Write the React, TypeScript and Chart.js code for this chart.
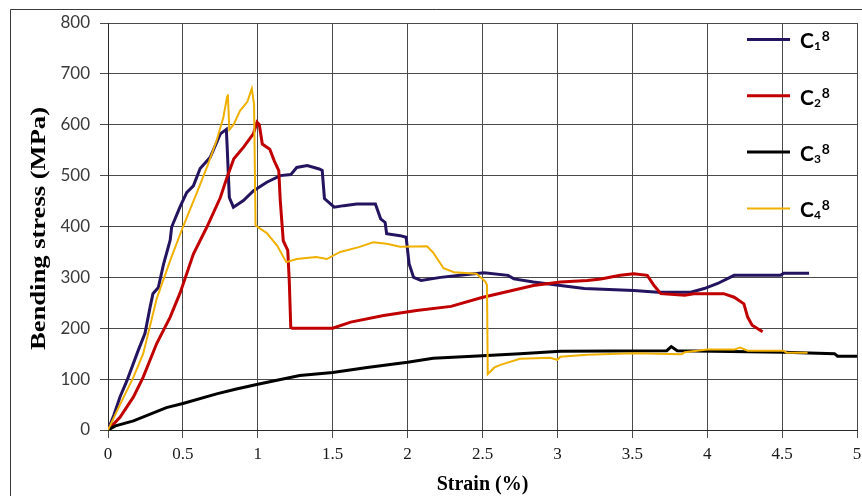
import React, { useEffect, useRef } from "react";
import { Chart, registerables } from "chart.js";

Chart.register(...registerables);

// ---- Data (strain %, bending stress MPa) ----
const c1Strain = [0, 0.04, 0.08, 0.125, 0.2, 0.247, 0.28, 0.3, 0.336, 0.37, 0.415, 0.425, 0.48, 0.526, 0.57, 0.615, 0.682, 0.75, 0.79, 0.795, 0.81, 0.837, 0.904, 0.97, 1.06, 1.15, 1.22, 1.26, 1.33, 1.41, 1.43, 1.445, 1.51, 1.574, 1.66, 1.785, 1.82, 1.85, 1.86, 1.95, 1.99, 2.01, 2.04, 2.09, 2.22, 2.35, 2.51, 2.67, 2.71, 2.84, 3.02, 3.18, 3.51, 3.67, 3.89, 3.98, 4.07, 4.18, 4.49, 4.51, 4.68];
const c1Stress = [0, 30, 65, 96, 155, 190, 240, 268, 280, 325, 373, 399, 438, 467, 480, 514, 536, 582, 591, 560, 457, 438, 451, 470, 487, 500, 502, 516, 520, 513, 510, 455, 438, 441, 444, 444, 415, 408, 386, 382, 379, 327, 300, 294, 300, 304, 309, 304, 297, 291, 284, 278, 274, 271, 271, 278, 288, 304, 304, 308, 308];

const c2Strain = [0, 0.08, 0.17, 0.235, 0.325, 0.415, 0.482, 0.57, 0.66, 0.75, 0.795, 0.84, 0.905, 0.97, 0.995, 1.01, 1.03, 1.08, 1.11, 1.14, 1.15, 1.17, 1.2, 1.21, 1.22, 1.23, 1.5, 1.62, 1.84, 2.06, 2.29, 2.49, 2.84, 3.02, 3.2, 3.29, 3.42, 3.51, 3.6, 3.645, 3.69, 3.85, 3.91, 4.11, 4.18, 4.245, 4.27, 4.3, 4.37];
const c2Stress = [0, 25, 65, 104, 170, 222, 270, 346, 399, 457, 497, 533, 556, 582, 605, 600, 562, 552, 529, 510, 451, 372, 353, 294, 202, 200, 200, 212, 225, 235, 243, 260, 284, 291, 294, 297, 304, 307, 304, 284, 268, 265, 268, 268, 261, 248, 222, 206, 193];

const c3Strain = [0, 0.05, 0.17, 0.39, 0.5, 0.725, 0.85, 1.0, 1.28, 1.5, 1.73, 2.0, 2.17, 2.5, 2.75, 3.02, 3.73, 3.76, 3.8, 4.51, 4.85, 4.87, 5.0];
const c3Stress = [0, 8, 18, 44, 52, 71, 80, 90, 107, 113, 123, 133, 141, 146, 150, 155, 156, 164, 156, 153, 150, 145, 145];

const c4Strain = [0, 0.08, 0.17, 0.235, 0.325, 0.415, 0.5, 0.59, 0.66, 0.725, 0.77, 0.795, 0.8, 0.81, 0.84, 0.88, 0.93, 0.96, 0.975, 0.985, 1.06, 1.13, 1.19, 1.26, 1.39, 1.46, 1.55, 1.68, 1.77, 1.86, 1.95, 2.13, 2.17, 2.24, 2.31, 2.46, 2.5, 2.52, 2.53, 2.535, 2.58, 2.62, 2.75, 2.95, 3.0, 3.02, 3.2, 3.51, 3.83, 3.85, 4.0, 4.18, 4.22, 4.27, 4.51, 4.53, 4.67];
const c4Stress = [0, 50, 104, 150, 258, 333, 399, 464, 516, 569, 614, 655, 660, 590, 601, 627, 645, 671, 640, 402, 387, 362, 330, 336, 340, 336, 350, 360, 369, 366, 360, 361, 349, 318, 310, 307, 297, 291, 285, 110, 123, 128, 140, 142, 138, 144, 148, 151, 149, 153, 158, 158, 162, 156, 156, 152, 152];

const seriesNames = ["C1", "C2", "C3", "C4"];
const seriesSubs = ["1", "2", "3", "4"];
const seriesColors = ["#24135f", "#c00000", "#000000", "#f0b000"];
const seriesWidths = [3, 3, 3, 2];

const xTicks = [0, 0.5, 1, 1.5, 2, 2.5, 3, 3.5, 4, 4.5, 5];
const yTicks = [0, 100, 200, 300, 400, 500, 600, 700, 800];
const xTitle = "Strain (%)";
const yTitle = "Bending stress (MPa)";

const zip = (xs: number[], ys: number[]) => xs.map((x, i) => ({ x, y: ys[i] }));

export default function App() {
  const ref = useRef<HTMLCanvasElement | null>(null);

  useEffect(() => {
    const canvas = ref.current;
    if (!canvas) return;

    const decor = {
      id: "decor",
      beforeDraw(chart: any) {
        const ctx = chart.ctx;
        ctx.save();
        ctx.fillStyle = "#ffffff";
        ctx.fillRect(0, 0, chart.width, chart.height);
        ctx.strokeStyle = "#3a3a3a";
        ctx.lineWidth = 1;
        ctx.beginPath();
        ctx.moveTo(10.5, chart.height);
        ctx.lineTo(10.5, 9.5);
        ctx.lineTo(chart.width, 9.5);
        ctx.stroke();
        ctx.restore();
      },
      afterDraw(chart: any) {
        const ctx = chart.ctx;
        const area = chart.chartArea;
        ctx.save();
        // y title
        ctx.fillStyle = "#000000";
        ctx.font = "bold 20px 'Liberation Serif'";
        ctx.textAlign = "center";
        ctx.textBaseline = "middle";
        const m = ctx.measureText(yTitle).width;
        const sx = 243 / m;
        ctx.translate(40, (area.top + area.bottom) / 2 + 2);
        ctx.rotate(-Math.PI / 2);
        ctx.scale(sx, 1);
        ctx.fillText(yTitle, 0, 0);
        ctx.restore();

        ctx.save();
        ctx.fillStyle = "#000000";
        ctx.font = "bold 20px 'Liberation Serif'";
        ctx.textAlign = "center";
        ctx.textBaseline = "middle";
        ctx.fillText(xTitle, (area.left + area.right) / 2, 485);
        ctx.restore();

        // legend
        ctx.save();
        for (let i = 0; i < seriesNames.length; i++) {
          const ly = 39.5 + i * 56.3;
          ctx.strokeStyle = seriesColors[i];
          ctx.lineWidth = seriesWidths[i];
          ctx.beginPath();
          ctx.moveTo(747, ly);
          ctx.lineTo(790, ly);
          ctx.stroke();
          const bx = 800;
          const by = ly + 8.7;
          ctx.fillStyle = "#000000";
          ctx.textAlign = "left";
          ctx.textBaseline = "alphabetic";
          ctx.font = "bold 21px Lato";
          ctx.fillText("C", bx, by);
          const cw = ctx.measureText("C").width;
          ctx.font = "bold 12px Lato";
          ctx.fillText(seriesSubs[i], bx + cw, by + 2);
          const sw = ctx.measureText(seriesSubs[i]).width;
          ctx.font = "bold 14px Lato";
          ctx.fillText("8", bx + cw + sw + 1, by - 7);
        }
        ctx.restore();
      },
    };

    const strains = [c1Strain, c2Strain, c3Strain, c4Strain];
    const stresses = [c1Stress, c2Stress, c3Stress, c4Stress];

    const chart = new Chart(canvas, {
      type: "line",
      data: {
        datasets: seriesNames.map((name, i) => ({
          label: name,
          data: zip(strains[i], stresses[i]),
          borderColor: seriesColors[i],
          backgroundColor: seriesColors[i],
          borderWidth: seriesWidths[i],
          pointRadius: 0,
          tension: 0,
          fill: false,
          order: 4 - i,
        })),
      },
      options: {
        responsive: false,
        animation: false,
        events: [],
        layout: { padding: { left: 0, right: 5, top: 23, bottom: 0 } },
        plugins: {
          legend: { display: false },
          title: { display: false },
          tooltip: { enabled: false },
        },
        scales: {
          x: {
            type: "linear",
            min: 0,
            max: 5,
            afterBuildTicks: (s: any) => {
              s.ticks = xTicks.map((v) => ({ value: v }));
            },
            afterFit: (s: any) => {
              s.height = 66;
              s.paddingRight = 0;
              s.paddingLeft = 0;
            },
            ticks: {
              font: { family: "'Liberation Serif'", size: 17 },
              color: "#1a1a1a",
              padding: 6,
              maxRotation: 0,
              autoSkip: false,
              callback: (v: any) => String(v),
            },
            grid: {
              color: "#4a4a4a",
              lineWidth: 1,
              tickLength: 8,
              tickColor: "#4a4a4a",
            },
            border: { color: "#2a2a2a", width: 1 },
          },
          y: {
            type: "linear",
            min: 0,
            max: 800,
            afterBuildTicks: (s: any) => {
              s.ticks = yTicks.map((v) => ({ value: v }));
            },
            afterFit: (s: any) => {
              s.width = 108;
              s.paddingTop = 0;
              s.paddingBottom = 0;
            },
            ticks: {
              font: { family: "Lato", size: 17 },
              color: "#3a3a3a",
              padding: 10,
              autoSkip: false,
            },
            grid: {
              color: "#4a4a4a",
              lineWidth: 1,
              tickLength: 8,
              tickColor: "#4a4a4a",
            },
            border: { color: "#2a2a2a", width: 1 },
          },
        },
      },
      plugins: [decor],
    } as any);

    return () => chart.destroy();
  }, []);

  return (
    <div style={{ position: "fixed", left: 0, top: 0, width: 862, height: 496 }}>
      <canvas ref={ref} width={862} height={496} style={{ width: 862, height: 496, display: "block" }} />
    </div>
  );
}
